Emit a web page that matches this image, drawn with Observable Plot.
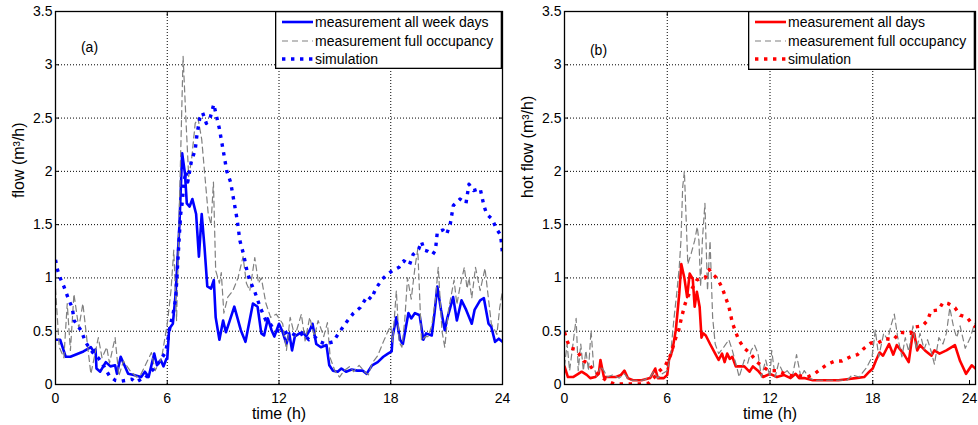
<!DOCTYPE html>
<html><head><meta charset="utf-8">
<script src="https://cdn.jsdelivr.net/npm/d3@7"></script>
<script src="https://cdn.jsdelivr.net/npm/@observablehq/plot@0.6"></script>
<style>
body{margin:0;background:#fff;font-family:"Liberation Sans",Arial,sans-serif;}
#wrap{display:flex;width:978px;height:425px;overflow:hidden;}
.panel{position:relative;flex:none;}
#pa{width:512px;} #pb{width:466px;}
.legend{position:absolute;top:11px;}
</style></head><body>
<div id="wrap"><div class="panel" id="pa"></div><div class="panel" id="pb"></div></div>
<script>
// ---------- data (time in h, flow in m3/h) ----------
const hourTicks = [0, 6, 12, 18, 24];
const flowTicks = [0, 0.5, 1, 1.5, 2, 2.5, 3, 3.5];

// panel (a): total flow
const aWeek = [[0,0.42],[0.25,0.42],[0.55,0.26],[0.8,0.26],[1.5,0.31],[1.9,0.35],[2.05,0.31],[2.15,0.33],[2.2,0.15],[2.4,0.12],[2.7,0.21],[2.95,0.17],[3.2,0.18],[3.3,0.1],[3.5,0.26],[3.9,0.1],[4.2,0.09],[4.6,0.07],[4.8,0.12],[5.0,0.07],[5.3,0.29],[5.45,0.18],[5.65,0.23],[5.8,0.17],[5.95,0.24],[6.0,0.24],[6.1,0.52],[6.3,0.57],[6.45,0.85],[6.65,1.48],[6.8,2.17],[6.95,1.98],[7.05,1.7],[7.2,1.67],[7.35,1.74],[7.55,1.6],[7.7,1.2],[7.85,1.6],[8.0,1.29],[8.15,0.92],[8.35,0.9],[8.5,0.98],[8.6,0.63],[8.8,0.42],[9.0,0.6],[9.15,0.49],[9.6,0.73],[9.95,0.51],[10.2,0.4],[10.6,0.76],[10.85,0.73],[11.05,0.48],[11.2,0.46],[11.4,0.62],[11.6,0.51],[11.75,0.45],[12.0,0.57],[12.2,0.49],[12.4,0.38],[12.55,0.48],[12.7,0.32],[12.85,0.45],[13.1,0.48],[13.3,0.49],[13.45,0.45],[13.65,0.51],[13.8,0.57],[14.0,0.38],[14.25,0.35],[14.55,0.37],[14.7,0.18],[14.9,0.13],[15.15,0.12],[15.35,0.15],[15.6,0.12],[15.9,0.14],[16.2,0.13],[16.5,0.13],[16.7,0.1],[17.0,0.18],[17.3,0.21],[17.6,0.26],[17.85,0.29],[18.05,0.31],[18.1,0.45],[18.3,0.63],[18.5,0.42],[18.65,0.38],[18.95,0.67],[19.1,0.62],[19.3,0.67],[19.55,0.65],[19.75,0.42],[19.9,0.48],[20.2,0.46],[20.35,0.67],[20.5,0.92],[20.7,0.7],[20.9,0.51],[21.05,0.63],[21.35,0.82],[21.55,0.6],[21.8,0.79],[22.05,0.7],[22.35,0.57],[22.5,0.7],[22.8,0.79],[23.0,0.81],[23.25,0.57],[23.4,0.54],[23.6,0.4],[23.8,0.43],[24,0.4]];
const aFull = [[0,0.9],[0.2,0.35],[0.45,0.25],[0.63,0.76],[0.8,0.32],[0.99,0.85],[1.25,0.53],[1.47,0.76],[1.75,0.32],[1.9,0.1],[2.3,0.44],[2.5,0.25],[2.75,0.35],[2.9,0.2],[3.2,0.44],[3.4,0.08],[3.65,0.22],[4.0,0.13],[4.35,0.07],[4.6,0.1],[5.15,0.3],[5.35,0.13],[5.7,0.25],[6.0,0.57],[6.2,0.88],[6.35,1.26],[6.5,0.6],[6.85,3.08],[7.0,2.5],[7.15,1.95],[7.3,2.1],[7.5,2.45],[7.65,2.5],[7.85,2.3],[8.05,1.9],[8.2,1.6],[8.35,1.5],[8.48,1.9],[8.6,1.07],[8.8,0.95],[8.9,1.05],[9.04,0.67],[9.25,0.82],[9.52,0.88],[9.8,1.0],[10.07,1.2],[10.25,0.95],[10.43,0.88],[10.7,1.19],[10.9,0.95],[11.05,1.0],[11.3,0.76],[11.55,0.63],[11.85,0.66],[12.2,0.57],[12.4,0.32],[12.6,0.63],[12.85,0.45],[13.2,0.66],[13.4,0.41],[13.65,0.63],[13.9,0.45],[14.1,0.6],[14.4,0.45],[14.6,0.58],[14.75,0.25],[15.0,0.13],[15.25,0.07],[15.5,0.13],[15.8,0.17],[16.0,0.12],[16.3,0.18],[16.6,0.12],[16.8,0.09],[17.0,0.2],[17.3,0.27],[17.6,0.4],[17.85,0.5],[18.0,0.55],[18.1,0.4],[18.3,0.88],[18.45,0.4],[18.6,0.35],[18.75,0.6],[18.9,1.0],[19.1,0.8],[19.3,1.1],[19.45,1.27],[19.65,0.41],[19.85,0.45],[20.0,0.45],[20.2,0.55],[20.4,0.8],[20.55,1.1],[20.75,0.5],[20.9,0.35],[21.1,0.7],[21.4,0.98],[21.55,0.75],[21.7,0.9],[21.95,1.1],[22.1,0.9],[22.2,1.0],[22.35,0.81],[22.55,1.1],[22.8,0.88],[23.06,1.09],[23.4,0.57],[23.7,0.47],[23.85,0.72],[24,0.88]];
const aSim = [[0,1.17],[0.1,1.08],[0.25,1.0],[0.45,0.92],[0.7,0.8],[0.9,0.72],[1.0,0.6],[1.2,0.55],[1.4,0.5],[1.6,0.4],[1.8,0.35],[2.0,0.3],[2.3,0.25],[2.6,0.17],[2.9,0.08],[3.2,0.04],[3.5,0.03],[3.8,0.04],[4.1,0.05],[4.3,0.02],[4.6,0.05],[4.8,0.05],[5.0,0.1],[5.3,0.15],[5.6,0.22],[5.9,0.3],[6.0,0.38],[6.15,0.55],[6.3,0.65],[6.45,0.8],[6.55,1.1],[6.65,1.4],[6.72,1.6],[6.8,1.7],[6.9,1.9],[7.0,2.0],[7.1,1.9],[7.2,2.0],[7.3,2.1],[7.5,2.2],[7.6,2.35],[7.75,2.5],[7.9,2.55],[8.1,2.45],[8.3,2.5],[8.5,2.63],[8.6,2.55],[8.8,2.4],[9.0,2.2],[9.2,2.0],[9.4,1.9],[9.6,1.7],[9.75,1.55],[9.9,1.35],[10.1,1.22],[10.3,1.05],[10.5,0.95],[10.7,0.87],[11.0,0.72],[11.3,0.6],[11.5,0.58],[11.7,0.52],[12.0,0.5],[12.3,0.48],[12.5,0.5],[12.8,0.47],[13.0,0.45],[13.3,0.48],[13.6,0.42],[13.9,0.45],[14.2,0.4],[14.5,0.38],[14.9,0.4],[15.2,0.48],[15.6,0.58],[16.0,0.67],[16.35,0.72],[16.75,0.83],[16.95,0.8],[17.2,0.9],[17.55,0.99],[17.8,1.03],[18.1,1.07],[18.45,1.1],[18.7,1.16],[19.0,1.12],[19.2,1.22],[19.5,1.27],[19.65,1.34],[19.8,1.26],[20.0,1.25],[20.25,1.22],[20.4,1.26],[20.5,1.43],[20.8,1.45],[21.0,1.41],[21.2,1.51],[21.36,1.68],[21.72,1.74],[22.04,1.7],[22.2,1.88],[22.44,1.82],[22.8,1.84],[23.0,1.68],[23.15,1.6],[23.45,1.55],[23.65,1.47],[23.9,1.4],[24,1.23]];

// panel (b): hot flow
const bAll = [[0,0.17],[0.2,0.07],[0.5,0.07],[0.8,0.1],[1.0,0.12],[1.3,0.09],[1.5,0.06],[1.8,0.07],[2.0,0.1],[2.1,0.23],[2.3,0.07],[2.6,0.07],[3.0,0.07],[3.3,0.09],[3.5,0.13],[3.7,0.06],[4.0,0.04],[4.5,0.04],[5.0,0.06],[5.3,0.15],[5.45,0.06],[5.8,0.06],[6.0,0.09],[6.1,0.23],[6.3,0.32],[6.5,0.51],[6.7,0.85],[6.82,1.13],[7.0,1.0],[7.16,0.82],[7.31,1.04],[7.49,0.99],[7.6,0.73],[7.73,0.87],[7.89,0.73],[8.0,0.44],[8.1,0.48],[8.25,0.46],[8.5,0.38],[8.8,0.29],[9.0,0.23],[9.2,0.29],[9.35,0.21],[9.5,0.29],[9.65,0.24],[9.8,0.26],[10.0,0.17],[10.5,0.17],[10.8,0.12],[11.0,0.17],[11.3,0.13],[11.6,0.07],[12.0,0.1],[12.4,0.07],[12.8,0.09],[13.2,0.06],[13.5,0.1],[13.7,0.06],[14.0,0.06],[14.5,0.04],[15,0.04],[16,0.04],[16.5,0.05],[17,0.06],[17.5,0.07],[17.8,0.12],[18.0,0.15],[18.2,0.23],[18.4,0.3],[18.6,0.27],[18.95,0.38],[19.2,0.28],[19.4,0.37],[19.8,0.29],[20.1,0.21],[20.3,0.44],[20.42,0.48],[20.6,0.32],[20.76,0.37],[21.05,0.32],[21.43,0.27],[21.6,0.32],[21.9,0.29],[22.3,0.32],[22.8,0.37],[23.1,0.22],[23.45,0.1],[23.78,0.18],[24,0.15]];
const bFull = [[0,0.17],[0.15,0.38],[0.3,0.13],[0.55,0.45],[0.68,0.62],[0.8,0.13],[0.95,0.38],[1.1,0.13],[1.25,0.32],[1.4,0.13],[1.55,0.51],[1.7,0.17],[1.9,0.07],[2.1,0.17],[2.3,0.13],[2.5,0.07],[2.8,0.09],[3.2,0.06],[3.5,0.1],[3.8,0.04],[4.2,0.04],[4.6,0.04],[5.0,0.07],[5.2,0.12],[5.45,0.06],[5.7,0.1],[6.0,0.13],[6.2,0.29],[6.4,0.63],[6.55,0.85],[6.7,1.1],[6.8,1.35],[6.9,1.85],[7.0,2.0],[7.1,1.57],[7.2,1.13],[7.4,1.23],[7.6,1.35],[7.75,1.48],[7.85,1.35],[7.95,0.92],[8.05,1.35],[8.2,1.7],[8.35,0.88],[8.5,1.35],[8.65,0.63],[8.8,0.38],[9.0,0.29],[9.3,0.35],[9.6,0.42],[9.8,0.32],[10.0,0.2],[10.2,0.07],[10.5,0.23],[10.7,0.2],[10.9,0.32],[11.1,0.37],[11.3,0.29],[11.5,0.07],[11.75,0.23],[12.0,0.07],[12.1,0.32],[12.3,0.07],[12.5,0.2],[12.8,0.1],[13.0,0.13],[13.3,0.07],[13.55,0.28],[13.8,0.07],[14.0,0.13],[14.3,0.06],[14.6,0.04],[15,0.04],[15.5,0.04],[16,0.04],[16.5,0.04],[16.8,0.09],[17.2,0.07],[17.65,0.16],[17.96,0.26],[18.15,0.51],[18.35,0.26],[18.64,0.48],[18.87,0.42],[19.06,0.55],[19.26,0.66],[19.45,0.45],[19.7,0.26],[19.9,0.44],[20.1,0.31],[20.35,0.55],[20.55,0.33],[20.76,0.48],[21.0,0.33],[21.2,0.42],[21.43,0.3],[21.6,0.19],[21.86,0.44],[22.1,0.38],[22.3,0.48],[22.5,0.72],[22.73,0.53],[22.9,0.44],[23.1,0.55],[23.4,0.34],[23.7,0.44],[23.9,0.55],[24,0.58]];
const bSim = [[0,0.49],[0.15,0.41],[0.35,0.34],[0.64,0.33],[0.83,0.29],[1.12,0.22],[1.4,0.2],[1.7,0.13],[2.1,0.08],[2.5,0.03],[2.9,0.005],[3.4,0.005],[3.9,0.005],[4.4,0.005],[4.9,0.01],[5.2,0.06],[5.5,0.12],[5.9,0.18],[6.2,0.28],[6.48,0.43],[6.67,0.51],[6.85,0.64],[7.05,0.76],[7.25,0.84],[7.45,0.9],[7.73,0.98],[8.0,1.0],[8.2,1.0],[8.45,1.08],[8.6,1.04],[8.9,1.0],[9.2,0.91],[9.4,0.82],[9.6,0.73],[9.8,0.58],[10.0,0.49],[10.2,0.41],[10.5,0.34],[10.86,0.29],[11.25,0.21],[11.64,0.16],[11.93,0.13],[12.4,0.13],[12.9,0.1],[13.3,0.08],[13.8,0.08],[14.2,0.07],[14.6,0.1],[15.0,0.15],[15.35,0.19],[15.8,0.22],[16.2,0.22],[16.7,0.26],[17.1,0.28],[17.5,0.34],[17.9,0.39],[18.3,0.39],[18.74,0.43],[19.2,0.42],[19.6,0.49],[20.2,0.48],[20.5,0.54],[20.9,0.55],[21.2,0.6],[21.4,0.69],[21.85,0.7],[22.1,0.77],[22.4,0.76],[22.8,0.72],[23.1,0.65],[23.5,0.63],[23.85,0.56],[24,0.54]];

const legendA = ["measurement all week days", "measurement full occupancy", "simulation"];
const legendB = ["measurement all days", "measurement full occupancy", "simulation"];

// ---------- drawing ----------
const FONT = "Liberation Sans, Arial, sans-serif";
const GRAY = "#808080";
const solidStyle = {strokeWidth: 2.6};
const dashStyle = {stroke: GRAY, strokeWidth: 1.2, strokeDasharray: "6,4"};
const dotStyle = {strokeWidth: 3.4, strokeDasharray: "3.4,5.6", strokeLinecap: "butt"};

function panel({el, width, marginLeft, marginRight, color, tag, tagDx, tagDy, ylabel, meas, full, sim, legend, legendLeft, legendHeight, lastShift}) {
  const gridOpts = {stroke: "black", strokeOpacity: 1, strokeWidth: 1, strokeDasharray: "1,2"};
  const labelled = lastShift ? hourTicks.slice(0, -1) : hourTicks;
  const xLabelOpts = {anchor: "bottom", tickSize: -4, tickPadding: 13, fontSize: 14, tickFormat: d => String(d)};
  const chart = Plot.plot({
    width, height: 425, marginLeft, marginRight, marginTop: 11, marginBottom: 41,
    style: {fontFamily: FONT, fontSize: "14px", color: "black", background: "white", overflow: "visible"},
    x: {domain: [0, 24], label: null},
    y: {domain: [0, 3.5], label: null},
    marks: [
      Plot.gridX(hourTicks.slice(1, -1), gridOpts),
      Plot.gridY(flowTicks.slice(1, -1), gridOpts),
      Plot.axisX(labelled, xLabelOpts),
      lastShift ? Plot.axisX(hourTicks.slice(-1), {...xLabelOpts, dx: -lastShift}) : null,
      Plot.axisX(hourTicks, {anchor: "top", tickSize: -4, tickFormat: () => ""}),
      Plot.axisY(flowTicks, {anchor: "left", tickSize: -4, tickPadding: 7, fontSize: 14, tickFormat: d => String(d)}),
      Plot.axisY(flowTicks, {anchor: "right", tickSize: -4, tickFormat: () => ""}),
      Plot.line(meas, {x: d => d[0], y: d => d[1], stroke: color, ...solidStyle, clip: true}),
      Plot.line(full, {x: d => d[0], y: d => d[1], ...dashStyle, clip: true}),
      Plot.line(sim, {x: d => d[0], y: d => d[1], stroke: color, ...dotStyle, clip: true}),
      Plot.frame({stroke: "black", strokeWidth: 1.3}),
      Plot.text([tag], {frameAnchor: "top-left", dx: tagDx, dy: tagDy, textAnchor: "middle", lineAnchor: "middle", fontSize: 14}),
      Plot.text(["time (h)"], {frameAnchor: "bottom", dy: 29, lineAnchor: "middle", fontSize: 16}),
      Plot.text([ylabel], {frameAnchor: "left", dx: -37, rotate: -90, lineAnchor: "middle", fontSize: 16})
    ]
  });
  el.appendChild(chart);

  // legend box (inside the axes, top right)
  const w = 227, h = legendHeight;
  const rows = [11, 30, 48];
  const svg = d3.create("svg").attr("xmlns", "http://www.w3.org/2000/svg").attr("width", w).attr("height", h)
    .style("display", "block");
  svg.append("rect").attr("x", 0.65).attr("y", 0.65).attr("width", w - 1.3).attr("height", h - 1.3)
    .attr("fill", "white").attr("stroke", "black").attr("stroke-width", 1.3);
  const styles = [
    {stroke: color, "stroke-width": 2.6},
    {stroke: GRAY, "stroke-width": 1.2, "stroke-dasharray": "6,4"},
    {stroke: color, "stroke-width": 3.4, "stroke-dasharray": "3.4,5.6"}
  ];
  legend.forEach((label, i) => {
    const ln = svg.append("line").attr("x1", 7).attr("x2", 38).attr("y1", rows[i]).attr("y2", rows[i]);
    Object.entries(styles[i]).forEach(([k, v]) => ln.attr(k, v));
    svg.append("text").attr("x", 40).attr("y", rows[i]).attr("dy", "0.35em")
      .attr("font-family", FONT).attr("font-size", 14).attr("fill", "black").text(label);
  });
  const box = document.createElement("div");
  box.className = "legend";
  box.style.left = legendLeft + "px";
  box.appendChild(svg.node());
  el.appendChild(box);
}

panel({el: document.getElementById("pa"), width: 512, marginLeft: 55, marginRight: 10, color: "#0000ff",
  tag: "(a)", tagDx: 34, tagDy: 36, ylabel: "flow (m³/h)", meas: aWeek, full: aFull, sim: aSim,
  legend: legendA, legendLeft: 275, legendHeight: 58, lastShift: 0});
panel({el: document.getElementById("pb"), width: 466, marginLeft: 52, marginRight: 3, color: "#ff0000",
  tag: "(b)", tagDx: 34, tagDy: 39, ylabel: "hot flow (m³/h)", meas: bAll, full: bFull, sim: bSim,
  legend: legendB, legendLeft: 236, legendHeight: 59, lastShift: 6});
</script>
</body></html>
